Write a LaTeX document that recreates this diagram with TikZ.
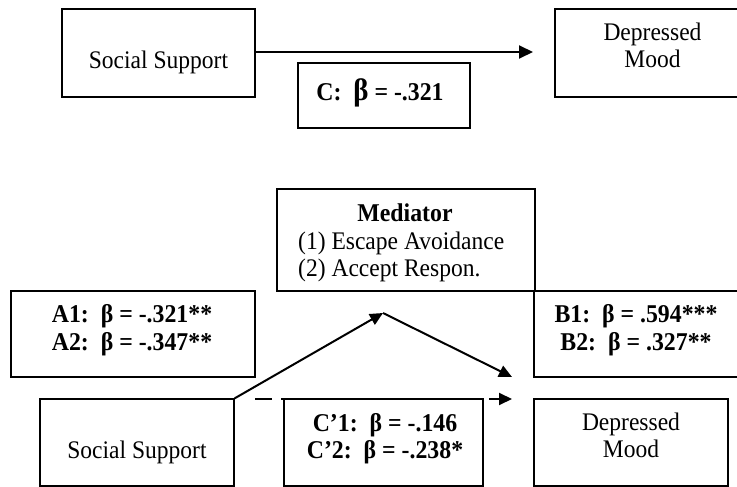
\documentclass[tikz,border=0pt]{standalone}
\usepackage{fontspec}
\setmainfont[FakeStretch=0.93]{Liberation Serif}
\usetikzlibrary{arrows.meta}
\newcommand\regfont{\fontsize{25.3}{28}\selectfont}
\newcommand\boldfont{\fontsize{25.6}{28}\selectfont\bfseries}
\newcommand\bigbeta{{\fontsize{31}{28}\selectfont β}}
\begin{document}
\begin{tikzpicture}[x=1pt,y=-1pt,
  box/.style={draw, line width=1.3pt, inner sep=0pt},
  txt/.style={inner sep=0pt, anchor=base, font=\regfont},
  btxt/.style={inner sep=0pt, anchor=base, font=\boldfont},
  arr/.style={line width=2pt, -{Triangle[length=13pt,width=12pt]}},
  arrbig/.style={line width=2pt, -{Triangle[length=14pt,width=13pt]}}]
\clip (0,0) rectangle (737,487);
\fill[white] (0,0) rectangle (737,487);
% ---------- top model ----------
\node[box, minimum width=193pt, minimum height=88pt] (ss1) at (158.5,53) {};
\node[txt] (ss1t) at (158.5,69) {Social Support};
\node[box, minimum width=195pt, minimum height=88pt] (dm1) at (652.5,53) {};
\node[txt] (dm1a) at (652.5,41) {Depressed};
\node[txt] (dm1b) at (652.5,68) {Mood};
\node[box, minimum width=172pt, minimum height=65pt] (cbox) at (384,95.5) {};
\node[btxt] (ct) at (380,100) {C:\ \ \bigbeta\ = -.321};
\coordinate (c1end) at (533,52);
\draw[arrbig] (ss1.east |- c1end) -- (c1end);
% ---------- mediation model ----------
\node[box, minimum width=258pt, minimum height=102pt] (med) at (406,240) {};
\node[btxt] (medt) at (405,221) {Mediator};
\node[txt, anchor=base west] (med1) at (298,249) {(1) Escape Avoidance};
\node[txt, anchor=base west] (med2) at (298,276) {(2) Accept Respon.};
\node[box, minimum width=244pt, minimum height=86pt] (abox) at (133,334) {};
\node[btxt] (a1) at (132,322) {A1:\ \ β = -.321**};
\node[btxt] (a2) at (132,350) {A2:\ \ β = -.347**};
\node[box, minimum width=206pt, minimum height=86pt] (bbox) at (637,334) {};
\node[btxt] (b1) at (636,322) {B1:\ \ β = .594***};
\node[btxt] (b2) at (636,350) {B2:\ \ β = .327**};
\node[box, minimum width=194pt, minimum height=87pt] (ss2) at (137,442.5) {};
\node[txt] (ss2t) at (137,458) {Social Support};
\node[box, minimum width=199pt, minimum height=87pt] (cpbox) at (383.5,442.5) {};
\node[btxt] (cp1) at (385,431) {C’1:\ \ β = -.146};
\node[btxt] (cp2) at (385,458) {C’2:\ \ β = -.238*};
\node[box, minimum width=194pt, minimum height=87pt] (dm2) at (631,442.5) {};
\node[txt] (dm2a) at (631,430) {Depressed};
\node[txt] (dm2b) at (631,457) {Mood};
% connectors
\coordinate (peak) at (383,313);
\coordinate (bend) at (512,377);
\coordinate (dstart) at (255,399);
\coordinate (dend) at (512,399);
\draw[arr] (ss2.north east) -- (peak);
\draw[arr] (peak) -- (bend);
\draw[arr, dash pattern=on 17pt off 9pt] (dstart) -- (dend);
\end{tikzpicture}
\end{document}
